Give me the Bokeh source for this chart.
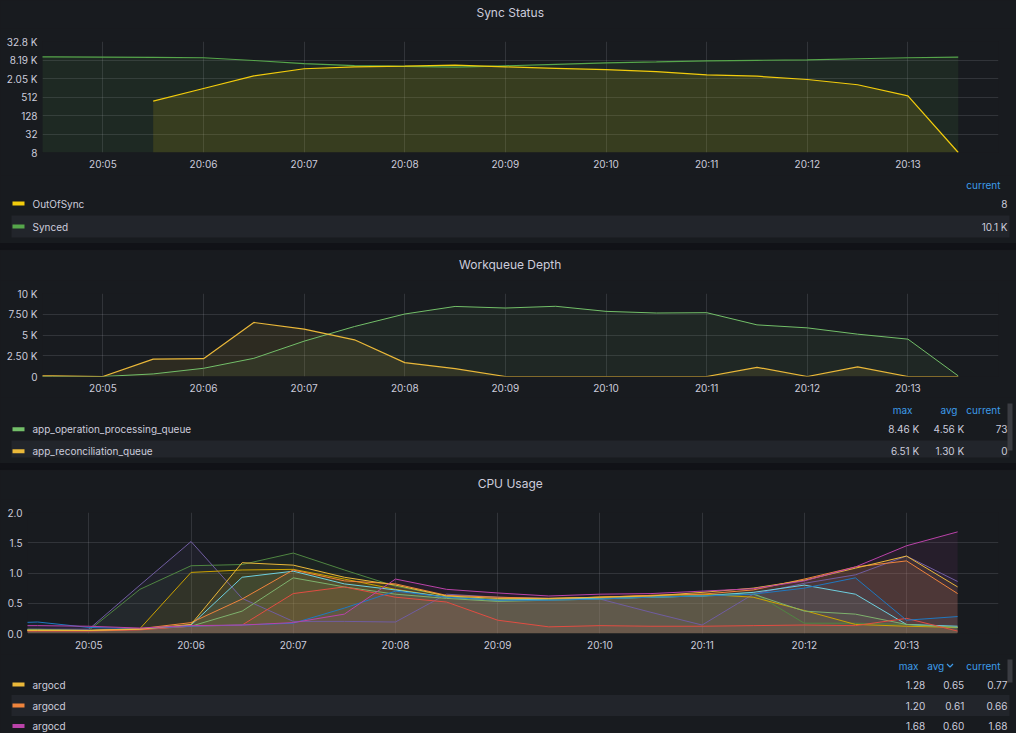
import numpy as np
from bokeh.plotting import figure
from bokeh.layouts import column
from bokeh.models import Range1d, FixedTicker, DatetimeTickFormatter, PrintfTickFormatter
from bokeh.core.properties import value
from bokeh.embed import file_html
from bokeh.resources import INLINE

# ---------------- data ----------------
DAY = "2024-01-01"
TIMES = ["20:04:00", "20:04:30", "20:05:00", "20:05:30", "20:06:00", "20:06:30",
         "20:07:00", "20:07:30", "20:08:00", "20:08:30", "20:09:00", "20:09:30",
         "20:10:00", "20:10:30", "20:11:00", "20:11:30", "20:12:00", "20:12:30",
         "20:13:00", "20:13:30"]
X_START = "20:04:24"
X_END = "20:13:54"
X_TICKS = ["20:05", "20:06", "20:07", "20:08", "20:09", "20:10", "20:11", "20:12", "20:13"]

# Sync Status (log2 axis)
SYNC_YTICKS = [8, 32, 128, 512, 2048, 8192, 32768]
SYNC_YLABELS = ["8", "32", "128", "512", "2.05 K", "8.19 K", "32.8 K"]
SYNCED = [10300, 10300, 10200, 10000, 9700, 7900, 6200, 5400, 5100, 4800,
          5300, 5900, 6600, 7100, 7700, 8000, 8300, 9000, 9700, 10100]
OUT_OF_SYNC = [None, None, None, 375, 970, 2500, 4250, 4900, 5150, 5550,
               4900, 4400, 4000, 3450, 2700, 2430, 1900, 1280, 560, 8]
SYNC_NAMES = ["OutOfSync", "Synced"]
SYNC_CURRENT = ["8", "10.1 K"]

# Workqueue Depth
Q_YTICKS = [0, 2500, 5000, 7500, 10000]
Q_YLABELS = ["0", "2.50 K", "5 K", "7.50 K", "10 K"]
Q_OPERATION = [0, 0, 0, 310, 990, 2190, 4260, 6020, 7530, 8440,
               8250, 8460, 7850, 7650, 7690, 6220, 5860, 5100, 4500, 73]
Q_RECONCILE = [70, 70, 0, 2100, 2150, 6510, 5700, 4420, 1670, 950,
               0, 0, 0, 0, 0, 1110, 0, 1150, 0, 0]
Q_NAMES = ["app_operation_processing_queue", "app_reconciliation_queue"]
Q_MAX = ["8.46 K", "6.51 K"]
Q_AVG = ["4.56 K", "1.30 K"]
Q_CUR = ["73", "0"]

# CPU Usage
CPU_YTICKS = [0.0, 0.5, 1.0, 1.5, 2.0]
CPU_SERIES = {
    "#508642": [0.07, 0.07, 0.05, 0.73, 1.12, 1.14, 1.33, 1.05, 0.78, 0.62, 0.56, 0.58, 0.60, 0.62, 0.63, 0.68, 0.17, 0.17, 0.15, 0.10],
    "#705DA0": [0.07, 0.07, 0.07, 0.80, 1.52, 0.58, 0.20, 0.20, 0.19, 0.65, 0.60, 0.58, 0.57, 0.35, 0.14, 0.65, 0.83, 0.97, 1.28, 0.86],
    "#CCA300": [0.06, 0.06, 0.05, 0.08, 1.01, 1.05, 1.06, 0.90, 0.73, 0.60, 0.55, 0.57, 0.60, 0.63, 0.65, 0.60, 0.38, 0.15, 0.12, 0.10],
    "#6ED0E0": [0.05, 0.05, 0.05, 0.07, 0.14, 0.93, 1.03, 0.82, 0.72, 0.60, 0.55, 0.57, 0.58, 0.60, 0.62, 0.68, 0.80, 0.65, 0.15, 0.12],
    "#7EB26D": [0.06, 0.06, 0.05, 0.07, 0.12, 0.37, 0.92, 0.77, 0.65, 0.58, 0.53, 0.55, 0.57, 0.60, 0.62, 0.65, 0.37, 0.32, 0.15, 0.10],
    "#E24D42": [0.04, 0.04, 0.04, 0.06, 0.12, 0.14, 0.66, 0.77, 0.60, 0.52, 0.22, 0.11, 0.13, 0.12, 0.12, 0.13, 0.14, 0.13, 0.25, 0.04],
    "#1F78C1": [0.16, 0.19, 0.10, 0.08, 0.12, 0.14, 0.17, 0.42, 0.70, 0.60, 0.55, 0.55, 0.57, 0.60, 0.62, 0.65, 0.75, 0.92, 0.22, 0.28],
    "#EF843C": [0.05, 0.05, 0.05, 0.08, 0.18, 0.57, 1.05, 0.87, 0.82, 0.63, 0.60, 0.58, 0.60, 0.63, 0.65, 0.72, 0.90, 1.10, 1.20, 0.66],
    "#EAB839": [0.05, 0.05, 0.05, 0.07, 0.15, 1.17, 1.13, 0.93, 0.80, 0.62, 0.58, 0.58, 0.60, 0.62, 0.68, 0.75, 0.88, 1.08, 1.28, 0.77],
    "#BA43A9": [0.13, 0.13, 0.12, 0.09, 0.13, 0.14, 0.18, 0.32, 0.90, 0.73, 0.67, 0.62, 0.65, 0.66, 0.70, 0.74, 0.87, 1.10, 1.45, 1.68],
}
CPU_LEG_NAMES = ["argocd", "argocd", "argocd"]
CPU_LEG_COLORS = ["#EAB839", "#EF843C", "#BA43A9"]
CPU_MAX = ["1.28", "1.20", "1.68"]
CPU_AVG = ["0.65", "0.61", "0.60"]
CPU_CUR = ["0.77", "0.66", "1.68"]

# ---------------- styling ----------------
W = 1016
PAGE = "#111217"
PANEL = "#181b1f"
BAND = "#22252b"
TEXT = "#ccccdc"
HEAD = "#3d9be9"
SCROLL = "#3a3c42"
FONT = value("Inter")


def ms(t):
    return float(np.datetime64(f"{DAY}T{t}").astype("datetime64[ms]").astype(np.int64))


XS = [ms(t) for t in TIMES]


def base(f, bg):
    f.background_fill_color = bg
    f.border_fill_color = bg
    f.outline_line_color = None
    f.frame_align = False
    f.styles = {"background-color": bg}
    return f


def textfig(h, bg=PANEL):
    f = figure(width=W, height=h, x_range=Range1d(0, W), y_range=Range1d(h, 0),
               toolbar_location=None, output_backend="svg", min_border=0,
               x_axis_location=None, y_axis_location=None)
    f.grid.visible = False
    return base(f, bg)


def header(h, title, cy):
    f = textfig(h)
    f.text(x=[509.7], y=[cy], text=[title], text_font=FONT, text_font_size="12px",
           text_color=TEXT, text_align="center", text_baseline="middle")
    return f


def chart(h, left, frame_h, y_range, y_axis_type="linear"):
    f = figure(width=W, height=h, x_axis_type="datetime", y_axis_type=y_axis_type,
               x_range=Range1d(ms(X_START), ms(X_END)), y_range=y_range,
               toolbar_location=None, output_backend="svg",
               min_border_left=left, min_border_right=18, min_border_top=13,
               min_border_bottom=h - 13 - frame_h)
    base(f, PANEL)
    f.xaxis.ticker = FixedTicker(ticks=[ms(t) for t in X_TICKS])
    fmt = "%H:%M"
    f.xaxis.formatter = DatetimeTickFormatter(seconds=fmt, minsec=fmt, minutes=fmt,
                                              hourmin=fmt, hours=fmt)
    for ax in (f.xaxis, f.yaxis):
        ax.axis_line_color = None
        ax.major_tick_line_color = None
        ax.minor_tick_line_color = None
        ax.major_tick_out = 0
        ax.major_tick_in = 0
        ax.major_label_text_font = "Inter"
        ax.major_label_text_font_size = "10px"
        ax.major_label_text_color = TEXT
        ax.major_label_standoff = 5
    f.grid.grid_line_color = TEXT
    f.grid.grid_line_alpha = 0.14
    return f


def gap(h):
    return textfig(h, bg=PAGE)


def row_swatch(f, y, color):
    f.segment(x0=[12], x1=[24], y0=[y], y1=[y], line_color=color, line_width=4,
              line_cap="butt")


def txt(f, x, y, s, color=TEXT, align="left"):
    f.text(x=x, y=y, text=s, text_font=FONT, text_font_size="10px",
           text_color=color, text_align=align, text_baseline="middle")


# ---------------- panel 1: Sync Status ----------------
h1 = header(28, "Sync Status", 12)
c1 = chart(147, 42, 111, Range1d(SYNC_YTICKS[0], SYNC_YTICKS[-1]), "log")
c1.yaxis.ticker = FixedTicker(ticks=SYNC_YTICKS)
c1.yaxis.major_label_overrides = dict(zip(SYNC_YTICKS, SYNC_YLABELS))
GREEN1, YELLOW1 = "#56A64B", "#F2CC0C"
c1.varea(x=XS, y1=SYNC_YTICKS[0], y2=SYNCED, fill_color=GREEN1, fill_alpha=0.1)
oi = [i for i, v in enumerate(OUT_OF_SYNC) if v is not None]
ox = [XS[i] for i in oi]
oy = [OUT_OF_SYNC[i] for i in oi]
c1.varea(x=ox, y1=SYNC_YTICKS[0], y2=oy, fill_color=YELLOW1, fill_alpha=0.12)
c1.line(XS, SYNCED, line_color=GREEN1, line_width=1.2)
c1.line(ox, oy, line_color=YELLOW1, line_width=1.2)

l1 = textfig(68)
l1.quad(left=[11], right=[1009], top=[40], bottom=[62], fill_color=BAND, line_color=None)
txt(l1, [1000], [9], ["current"], HEAD, "right")
for i, (name, col) in enumerate(zip(SYNC_NAMES, [YELLOW1, GREEN1])):
    y = [28, 51][i]
    row_swatch(l1, y, col)
    txt(l1, [32], [y], [name])
    txt(l1, [1007], [y], [SYNC_CURRENT[i]], TEXT, "right")

# ---------------- panel 2: Workqueue Depth ----------------
h2 = header(30, "Workqueue Depth", 14)
c2 = chart(117, 42, 83, Range1d(Q_YTICKS[0], Q_YTICKS[-1]))
c2.yaxis.ticker = FixedTicker(ticks=Q_YTICKS)
c2.yaxis.major_label_overrides = dict(zip(Q_YTICKS, Q_YLABELS))
GREEN2, YELLOW2 = "#73BF69", "#EAB839"
c2.varea(x=XS, y1=0, y2=Q_OPERATION, fill_color=GREEN2, fill_alpha=0.08)
c2.varea(x=XS, y1=0, y2=Q_RECONCILE, fill_color=YELLOW2, fill_alpha=0.1)
c2.line(XS, Q_OPERATION, line_color=GREEN2, line_width=1)
c2.line(XS, Q_RECONCILE, line_color=YELLOW2, line_width=1.2)

l2 = textfig(66)
l2.quad(left=[11], right=[1009], top=[43], bottom=[60], fill_color=BAND, line_color=None)
l2.quad(left=[1007], right=[1012], top=[6], bottom=[53], fill_color=SCROLL, line_color=None)
txt(l2, [912, 957, 1000], [12, 12, 12], ["max", "avg", "current"], HEAD, "right")
for i, (name, col) in enumerate(zip(Q_NAMES, [GREEN2, YELLOW2])):
    y = [31.7, 53.7][i]
    row_swatch(l2, y, col)
    txt(l2, [32], [y], [name])
    txt(l2, [918.7, 963.7, 1007], [y, y, y], [Q_MAX[i], Q_AVG[i], Q_CUR[i]], TEXT, "right")

# ---------------- panel 3: CPU Usage ----------------
h3 = header(29, "CPU Usage", 13)
c3 = chart(155, 27, 121, Range1d(CPU_YTICKS[0], CPU_YTICKS[-1]))
c3.yaxis.ticker = FixedTicker(ticks=CPU_YTICKS)
c3.yaxis.formatter = PrintfTickFormatter(format="%.1f")
for col, vals in CPU_SERIES.items():
    c3.varea(x=XS, y1=0, y2=vals, fill_color=col, fill_alpha=0.09)
for col, vals in CPU_SERIES.items():
    c3.line(XS, vals, line_color=col, line_width=1)

l3 = textfig(79)
l3.quad(left=[11], right=[1009], top=[40.5], bottom=[61.5], fill_color=BAND, line_color=None)
l3.quad(left=[1007], right=[1012], top=[5], bottom=[28], fill_color=SCROLL, line_color=None)
txt(l3, [918, 943.7, 1000], [11, 11, 11], ["max", "avg", "current"], HEAD, "right")
l3.line(x=[946.5, 949.5, 952.5], y=[9.5, 12.5, 9.5], line_color=HEAD, line_width=1.2)
for i in range(3):
    y = [30, 51, 71.5][i]
    row_swatch(l3, y, CPU_LEG_COLORS[i])
    txt(l3, [32], [y], [CPU_LEG_NAMES[i]])
    txt(l3, [924.7, 963.7, 1007], [y, y, y], [CPU_MAX[i], CPU_AVG[i], CPU_CUR[i]], TEXT, "right")

p = column([h1, c1, l1, gap(7), h2, c2, l2, gap(7), h3, c3, l3], spacing=0,
           styles={"background-color": PANEL})

open("out.html", "w").write(file_html(p, INLINE))
